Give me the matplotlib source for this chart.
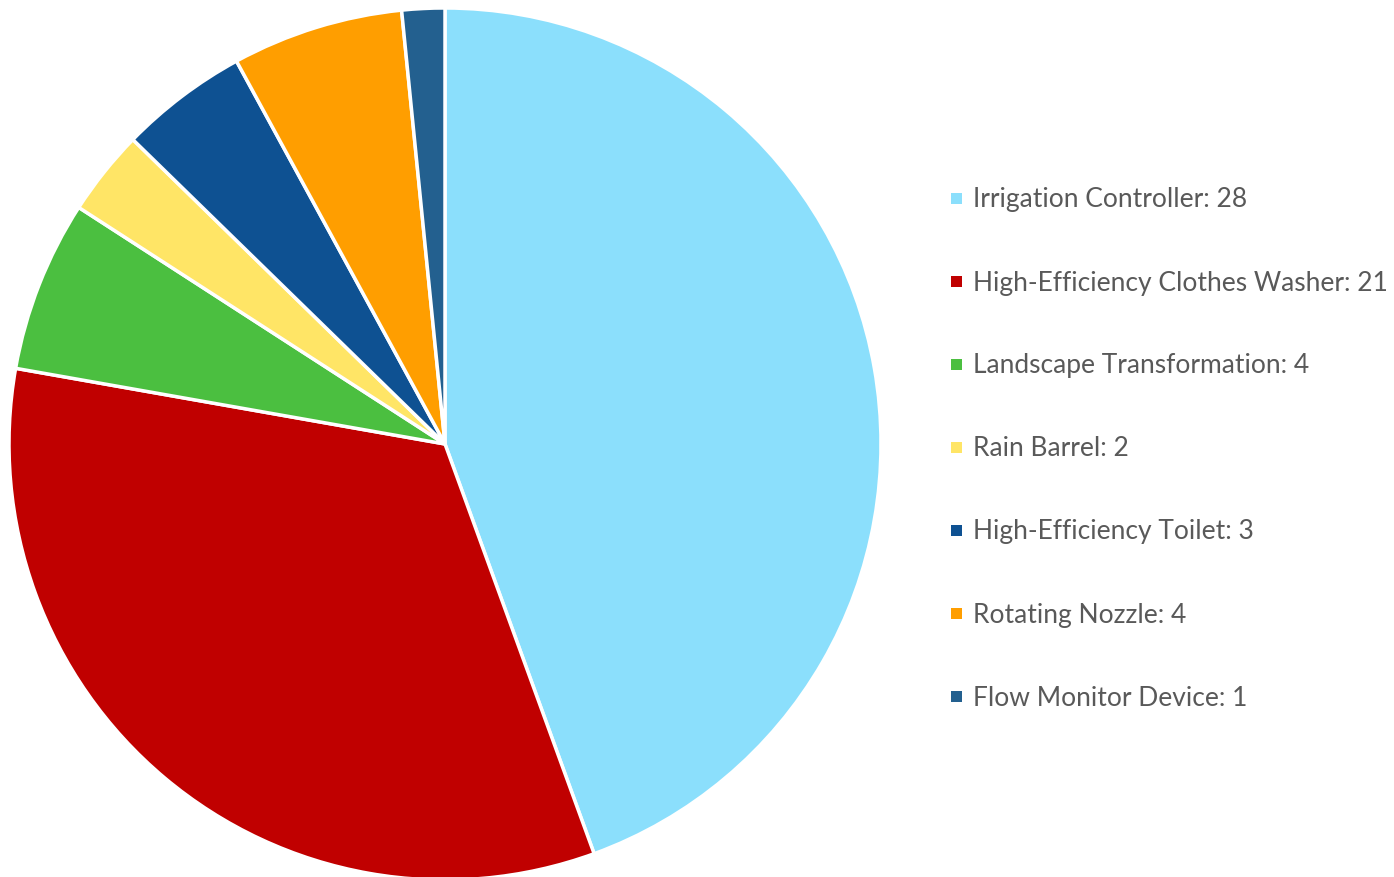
import matplotlib
matplotlib.use("Agg")
import matplotlib.pyplot as plt
from matplotlib.patches import Rectangle

categories = [
    "Irrigation Controller",
    "High-Efficiency Clothes Washer",
    "Landscape Transformation",
    "Rain Barrel",
    "High-Efficiency Toilet",
    "Rotating Nozzle",
    "Flow Monitor Device",
]
counts = [28, 21, 4, 2, 3, 4, 1]
colors = ["#8BDFFC", "#C00000", "#4BBF40", "#FFE566", "#0E5192", "#FF9E00", "#23608F"]

W, H = 1394, 877
fig = plt.figure(figsize=(W / 100, H / 100), dpi=100)
fig.patch.set_facecolor("white")
ax = fig.add_axes([0, 0, 1, 1])

ax.pie(
    counts,
    colors=colors,
    startangle=90,
    counterclock=False,
    center=(445, H - 444),
    radius=436,
    wedgeprops=dict(edgecolor="white", linewidth=2.5),
    frame=True,
)
ax.set_xlim(0, W)
ax.set_ylim(0, H)
ax.set_aspect("equal")
ax.axis("off")

# legend entries
row0, step = 198, 83
for i, (name, n, c) in enumerate(zip(categories, counts, colors)):
    y = H - (row0 + i * step)
    ax.add_patch(Rectangle((951, y - 5.5), 11, 11, facecolor=c, edgecolor="none"))
    ax.text(973, y - 2, f"{name}: {n}", fontsize=19, family=["Lato", "DejaVu Sans"],
            color="#595959", va="center", ha="left")

fig.savefig("out.png", dpi=100)
